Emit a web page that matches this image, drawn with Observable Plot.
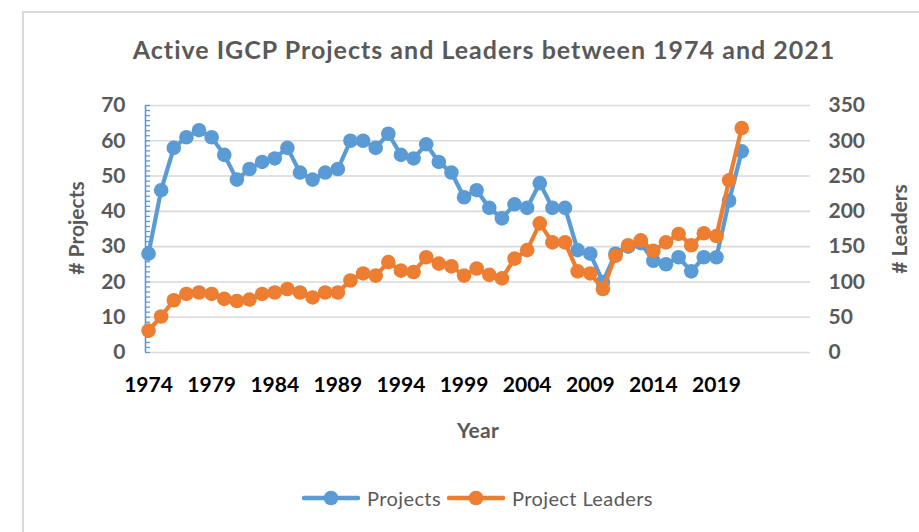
<!DOCTYPE html>
<html>
<head>
<meta charset="utf-8">
<script src="https://cdn.jsdelivr.net/npm/d3@7"></script>
<script src="https://cdn.jsdelivr.net/npm/@observablehq/plot@0.6"></script>
<style>
  html, body { margin: 0; padding: 0; background: #fff; }
  body { width: 919px; height: 532px; position: relative; overflow: hidden; font-family: Lato, "Open Sans", sans-serif; }
  #frame { position: absolute; left: 22px; top: 11px; width: 920px; height: 540px; border: 2px solid #d9d9d9; box-sizing: border-box; }
  #chart { position: absolute; left: 0; top: 0; }
  .lbl { position: absolute; color: #595959; font-weight: bold; white-space: nowrap; }
  #title { left: 484px; top: 34px; transform: translateX(-50%); font-size: 25px; letter-spacing: 1px; }
  #xlab { left: 478px; top: 417px; transform: translateX(-50%); font-size: 21px; letter-spacing: 0.3px; }
  #ylab { left: 75px; top: 228px; transform: translate(-50%, -50%) rotate(-90deg); font-size: 21px; }
  #y2lab { left: 898px; top: 229px; transform: translate(-50%, -50%) rotate(-90deg); font-size: 21px; }
  #legend { position: absolute; top: 486px; left: 302px; display: flex; align-items: center; font-size: 20px; letter-spacing: 0.4px; color: #595959; }
  #legend svg { display: block; }
</style>
</head>
<body>
<div id="frame"></div>
<div id="chart"></div>
<div id="title" class="lbl">Active IGCP Projects and Leaders between 1974 and 2021</div>
<div id="xlab" class="lbl">Year</div>
<div id="ylab" class="lbl"># Projects</div>
<div id="y2lab" class="lbl"># Leaders</div>
<div id="legend"></div>
<script>
// ---- data ----
const years = [1974,1975,1976,1977,1978,1979,1980,1981,1982,1983,
               1984,1985,1986,1987,1988,1989,1990,1991,1992,1993,
               1994,1995,1996,1997,1998,1999,2000,2001,2002,2003,
               2004,2005,2006,2007,2008,2009,2010,2011,2012,2013,
               2014,2015,2016,2017,2018,2019,2020,2021];
const projects = [28,46,58,61,63,61,56,49,52,54,
                  55,58,51,49,51,52,60,60,58,62,
                  56,55,59,54,51,44,46,41,38,42,
                  41,48,41,41,29,28,20,28,30,31,
                  26,25,27,23,27,27,43,57];
const leaders = [31,51,74,83,85,83,76,73,75,83,
                 85,90,85,78,85,85,102,112,109,128,
                 116,114,135,126,122,109,119,110,105,133,
                 145,183,156,156,115,112,90,137,152,159,
                 144,156,168,152,169,165,244,318];
const xTicks = [1974,1979,1984,1989,1994,1999,2004,2009,2014,2019];
const yTicksLeft = [0,10,20,30,40,50,60,70];
const yTicksRight = [0,50,100,150,200,250,300,350];
const seriesNames = ["Projects", "Project Leaders"];

// ---- style ----
const blue = "#5b9bd5", orange = "#ed7d31";
const ratio = 350 / 70; // right axis / left axis
const xDomain = [1973.76, 2026.45];

const projData = years.map((y, i) => ({year: y, v: projects[i]}));
const leadData = years.map((y, i) => ({year: y, v: leaders[i] / ratio}));
const minor = d3.range(0, 70.0001, 10 / 7);

const chart = Plot.plot({
  width: 919,
  height: 532,
  marginLeft: 145,
  marginRight: 109,
  marginTop: 105,
  marginBottom: 180,
  style: {fontFamily: "Lato, 'Open Sans', sans-serif", background: "transparent", overflow: "visible"},
  x: {domain: xDomain},
  y: {domain: [0, 70]},
  marks: [
    Plot.ruleY(yTicksLeft, {stroke: "#d9d9d9", strokeWidth: 1.6}),
    Plot.ruleX([xDomain[0]], {y1: 0, y2: 70, stroke: blue, strokeWidth: 1.6}),
    Plot.axisY({ticks: minor, anchor: "left", tickSize: 5, dx: 5, tickFormat: () => "", stroke: blue, strokeWidth: 1.3}),
    Plot.axisY({ticks: yTicksLeft, anchor: "left", tickSize: 0, tickPadding: 20, fontSize: 21, fontWeight: "bold", color: "#595959", letterSpacing: 1}),
    Plot.axisY({ticks: yTicksRight.map(d => d / ratio), anchor: "right", tickSize: 0, tickPadding: 18, tickFormat: d => String(Math.round(d * ratio)), fontSize: 21, fontWeight: "bold", color: "#595959", textAnchor: "start", letterSpacing: 1.5}),
    Plot.axisX({ticks: xTicks, tickSize: 0, tickPadding: 25, tickFormat: d => String(d), fontSize: 21, fontWeight: "bold", color: "#000", letterSpacing: 1.8, label: null}),
    Plot.line(projData, {x: "year", y: "v", stroke: blue, strokeWidth: 4.2}),
    Plot.dot(projData, {x: "year", y: "v", r: 7.3, fill: blue}),
    Plot.line(leadData, {x: "year", y: "v", stroke: orange, strokeWidth: 4.2}),
    Plot.dot(leadData, {x: "year", y: "v", r: 7.3, fill: orange})
  ]
});
chart.querySelectorAll('[aria-label="y-axis label"], [aria-label="x-axis label"]').forEach(n => n.remove());
document.getElementById("chart").appendChild(chart);

// legend
const legend = document.getElementById("legend");
[[seriesNames[0], blue], [seriesNames[1], orange]].forEach(([name, c], i) => {
  const sw = document.createElementNS("http://www.w3.org/2000/svg", "svg");
  sw.setAttribute("width", 58); sw.setAttribute("height", 16);
  sw.innerHTML = `<line x1="2" y1="8" x2="56" y2="8" stroke="${c}" stroke-width="4.5" stroke-linecap="round"/><circle cx="29" cy="8" r="7.3" fill="${c}"/>`;
  legend.appendChild(sw);
  const s = document.createElement("span");
  s.textContent = name;
  s.style.marginLeft = "7px";
  s.style.marginRight = i === 0 ? "6px" : "0";
  legend.appendChild(s);
});
</script>
</body>
</html>
